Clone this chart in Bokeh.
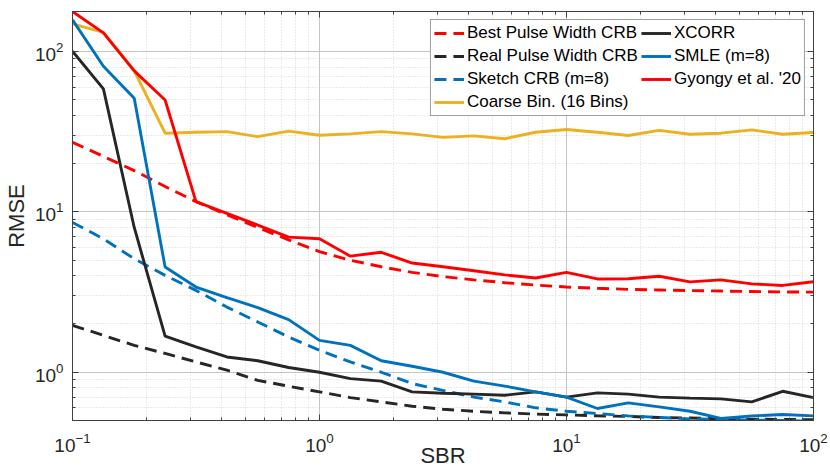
from bokeh.plotting import figure
from bokeh.models import (Range1d, LogAxis, LogTicker, Legend, LegendItem,
                          CustomJSTickFormatter, ColumnDataSource)
from bokeh.embed import file_html
from bokeh.resources import INLINE

# ---- data ----
sbr = [0.1, 0.1334, 0.1778, 0.2371, 0.3162, 0.4217, 0.5623, 0.7499, 1.0,
       1.3335, 1.7783, 2.3714, 3.1623, 4.2170, 5.6234, 7.4989, 10.0,
       13.335, 17.783, 23.714, 31.623, 42.170, 56.234, 74.989, 100.0]

best_crb = [27.2, 22.2, 18.1, 14.4, 11.6, 9.6, 8.0, 6.7, 5.65, 5.0, 4.55, 4.2,
            3.95, 3.77, 3.62, 3.5, 3.4, 3.34, 3.29, 3.26, 3.23, 3.21, 3.19, 3.17, 3.16]
real_crb = [1.96, 1.70, 1.47, 1.31, 1.16, 1.03, 0.89, 0.818, 0.754, 0.695, 0.653,
            0.614, 0.588, 0.571, 0.558, 0.548, 0.542, 0.535, 0.53, 0.522, 0.518,
            0.513, 0.51, 0.508, 0.505]
sketch_crb = [8.6, 6.8, 5.1, 4.02, 3.24, 2.55, 2.06, 1.66, 1.37, 1.16, 1.0, 0.85,
              0.77, 0.70, 0.653, 0.60, 0.571, 0.553, 0.534, 0.522, 0.512, 0.508,
              0.503, 0.50, 0.495]
coarse = [149, 132, 76, 31, 31.4, 31.7, 29.5, 31.9, 30.1, 30.7, 31.7, 30.7, 29.2,
          29.8, 28.6, 31.4, 32.7, 31.4, 30.0, 32.3, 30.5, 31.0, 32.5, 30.5, 31.3]
xcorr = [100.5, 58.6, 8.0, 1.68, 1.44, 1.245, 1.18, 1.07, 1.0, 0.913, 0.88, 0.754,
         0.74, 0.73, 0.719, 0.754, 0.70, 0.743, 0.73, 0.70, 0.69, 0.682, 0.653,
         0.761, 0.695]
smle = [158, 81, 51.2, 4.53, 3.4, 2.92, 2.53, 2.13, 1.58, 1.47, 1.18, 1.09, 1.0,
        0.88, 0.82, 0.754, 0.70, 0.594, 0.644, 0.608, 0.571, 0.515, 0.534, 0.545, 0.534]
gyongy = [178, 131, 75.9, 49.9, 11.6, 9.8, 8.28, 6.97, 6.8, 5.3, 5.6, 4.8, 4.55,
          4.3, 4.05, 3.87, 4.2, 3.82, 3.83, 3.97, 3.66, 3.77, 3.56, 3.48, 3.67]

labels = ["Best Pulse Width CRB", "Real Pulse Width CRB", "Sketch CRB (m=8)",
          "Coarse Bin. (16 Bins)", "XCORR", "SMLE (m=8)", "Gyongy et al. '20"]

RED = "#FF0000"
BLACK = "#262626"
BLUE = "#0072BD"
YELLOW = "#EDB120"
FONT = "Liberation Sans"
TXT = "#262626"
AXC = "#404040"

p = figure(width=828, height=474, x_axis_type="log", y_axis_type="log",
           x_range=Range1d(0.1, 100), y_range=Range1d(0.5, 178),
           output_backend="svg", toolbar_location=None,
           min_border_left=72, min_border_right=15, min_border_top=11,
           min_border_bottom=54)

p.xaxis.ticker = LogTicker(num_minor_ticks=10)
p.yaxis.ticker = LogTicker(num_minor_ticks=10)

series = [
    (best_crb, RED, "12 7"),
    (real_crb, BLACK, "12 7"),
    (sketch_crb, BLUE, "12 7"),
    (coarse, YELLOW, "solid"),
    (xcorr, BLACK, "solid"),
    (smle, BLUE, "solid"),
    (gyongy, RED, "solid"),
]
items = []
for (vals, col, dash), lab in zip(series, labels):
    src = ColumnDataSource(dict(x=sbr, y=vals))
    r = p.line("x", "y", source=src, line_color=col, line_width=2.9, line_dash=dash)
    items.append(LegendItem(label=lab, renderers=[r]))

# axes styling
for ax in (p.xaxis[0], p.yaxis[0]):
    ax.major_label_text_font = FONT
    ax.major_label_text_font_size = "19px"
    ax.major_label_text_color = TXT
    ax.axis_label_text_font = FONT
    ax.axis_label_text_font_size = "22px"
    ax.axis_label_text_font_style = "normal"
    ax.axis_label_text_color = TXT
    ax.axis_line_color = AXC
    ax.major_tick_line_color = AXC
    ax.minor_tick_line_color = AXC
    ax.major_tick_in = 6
    ax.major_tick_out = 0
    ax.minor_tick_in = 3
    ax.minor_tick_out = 0

p.xaxis.axis_label = "SBR"
p.yaxis.axis_label = "RMSE"
p.xaxis.major_label_standoff = 12
p.xaxis.axis_label_standoff = -12
p.yaxis.major_label_standoff = 9
p.yaxis.axis_label_standoff = 3

# box ticks on top and right
for loc in ("above", "right"):
    ax = LogAxis(ticker=LogTicker(num_minor_ticks=10),
                 formatter=CustomJSTickFormatter(code="return ''"))
    ax.axis_line_color = AXC
    ax.major_tick_line_color = AXC
    ax.minor_tick_line_color = AXC
    ax.major_tick_in = 6
    ax.major_tick_out = 0
    ax.minor_tick_in = 3
    ax.minor_tick_out = 0
    ax.major_label_standoff = 0
    p.add_layout(ax, loc)

p.outline_line_color = AXC

# grids
for g in (p.xgrid[0], p.ygrid[0]):
    g.grid_line_color = "#c4c4c4"
    g.grid_line_width = 1
    g.minor_grid_line_color = "#d4d4d4"
    g.minor_grid_line_dash = "1 2"
    g.minor_grid_line_width = 1

legend = Legend(items=items, location="top_right", nrows=4,
                orientation="vertical", margin=8)
legend.label_text_font = FONT
legend.label_text_font_size = "17px"
legend.label_text_color = "#000000"
legend.label_height = 20
legend.glyph_height = 20
legend.glyph_width = 30
legend.label_standoff = 3
legend.spacing = 3
legend.padding = 3
legend.border_line_color = AXC
legend.border_line_width = 1
legend.background_fill_alpha = 1.0
p.add_layout(legend)

open("out.html", "w").write(file_html(p, INLINE))
